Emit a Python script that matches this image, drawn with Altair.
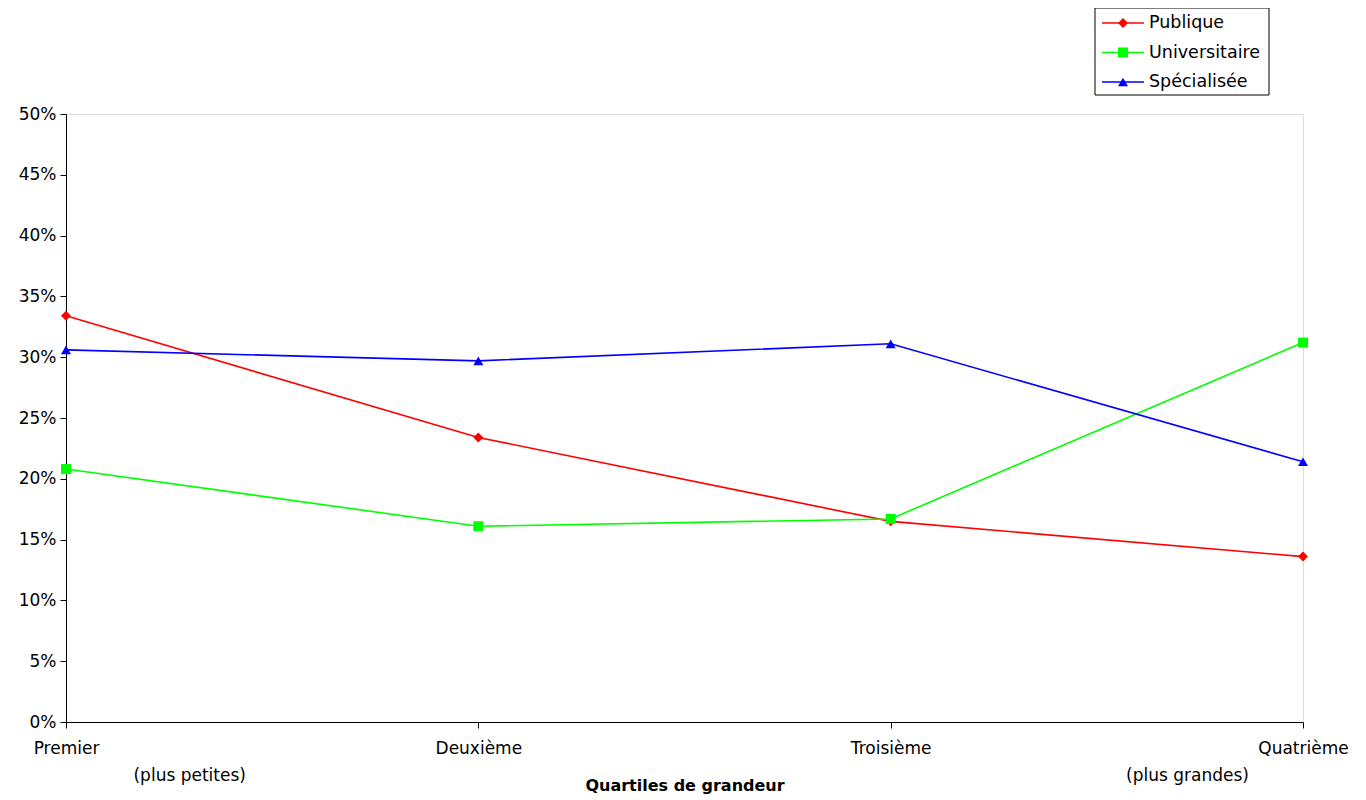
import altair as alt
import pandas as pd

categories = ["Premier", "Deuxième", "Troisième", "Quatrième"]
series = ["Publique", "Universitaire", "Spécialisée"]
publique = [0.334, 0.234, 0.165, 0.136]
universitaire = [0.208, 0.161, 0.167, 0.312]
specialisee = [0.306, 0.297, 0.311, 0.214]
sublabels = ["(plus petites)", "(plus grandes)"]
sublabel_pos = [0.30, 2.72]
colors = ["#FF0000", "#00FF00", "#0000FF"]
shapes = ["diamond", "square", "triangle-up"]

rows = []
for name, vals in zip(series, [publique, universitaire, specialisee]):
    for i, v in enumerate(vals):
        rows.append({"idx": i, "cat": categories[i], "series": name, "value": v})
df = pd.DataFrame(rows)

W, H = 1237, 608
FONT = "DejaVu Sans"
FS = 17

label_expr = "[" + ",".join("'%s'" % c for c in categories) + "][datum.value]"

color = alt.Color("series:N", scale=alt.Scale(domain=series, range=colors), legend=None)
shape = alt.Shape("series:N", scale=alt.Scale(domain=series, range=shapes), legend=None)

x = alt.X("idx:Q", scale=alt.Scale(domain=[0, 3], nice=False, zero=False),
          axis=alt.Axis(values=[0, 1, 2, 3], labelExpr=label_expr, grid=False,
                        title="Quartiles de grandeur", titleFont=FONT, titleFontSize=16,
                        titleFontWeight="bold", titlePadding=21, titleColor="black",
                        labelFont=FONT, labelFontSize=FS, labelColor="black", labelPadding=12,
                        tickColor="black", tickSize=6, domainColor="black",
                        labelFlush=False, labelOverlap=False))
y = alt.Y("value:Q", scale=alt.Scale(domain=[0, 0.5], nice=False),
          axis=alt.Axis(values=[i * 0.05 for i in range(11)], format=".0%", grid=False, title=None,
                        labelFont=FONT, labelFontSize=FS, labelColor="black", labelPadding=4,
                        tickColor="black", tickSize=6, domainColor="black"))

lines = alt.Chart(df).mark_line(strokeWidth=1.6).encode(x=x, y=y, color=color, detail="series:N")
points = alt.Chart(df).mark_point(filled=True, size=100, opacity=1).encode(x=x, y=y, color=color, shape=shape)

sub_df = pd.DataFrame({"label": sublabels, "pos": sublabel_pos})
subs = alt.Chart(sub_df).mark_text(font=FONT, fontSize=FS, color="black", baseline="middle").encode(
    x=alt.X("pos:Q"), y=alt.value(H + 54), text="label:N")

# manual legend
leg_df = pd.DataFrame({"series": series})
ly = alt.Y("series:N", scale=alt.Scale(type="point", domain=series, range=[-91, -32], padding=0), axis=None)
box = alt.Chart(pd.DataFrame({"a": [0]})).mark_rect(fill="white", stroke="black", strokeWidth=1).encode(
    x=alt.value(1029), x2=alt.value(1203), y=alt.value(-106), y2=alt.value(-19))
leg_lines = alt.Chart(leg_df).mark_rule(strokeWidth=1.6).encode(
    x=alt.value(1036), x2=alt.value(1078), y=ly, color=color)
leg_pts = alt.Chart(leg_df).mark_point(filled=True, size=100, opacity=1).encode(
    x=alt.value(1057), y=ly, color=color, shape=shape)
leg_text = alt.Chart(leg_df).mark_text(font=FONT, fontSize=17.5, color="black", align="left",
                                       baseline="middle").encode(x=alt.value(1083), y=ly, text="series:N")
legend = alt.layer(box, leg_lines, leg_pts, leg_text)

main = alt.layer(lines, points, subs)

chart = alt.layer(main, legend).resolve_scale(y="independent").properties(
    width=W, height=H,
    autosize=alt.AutoSizeParams(type="none"),
    padding={"left": 58, "top": 106, "right": 55, "bottom": 80},
).configure_view(stroke="#808080", strokeWidth=1).configure(background="white")

chart.save("out.html", embed_options={"renderer": "svg", "actions": False})
